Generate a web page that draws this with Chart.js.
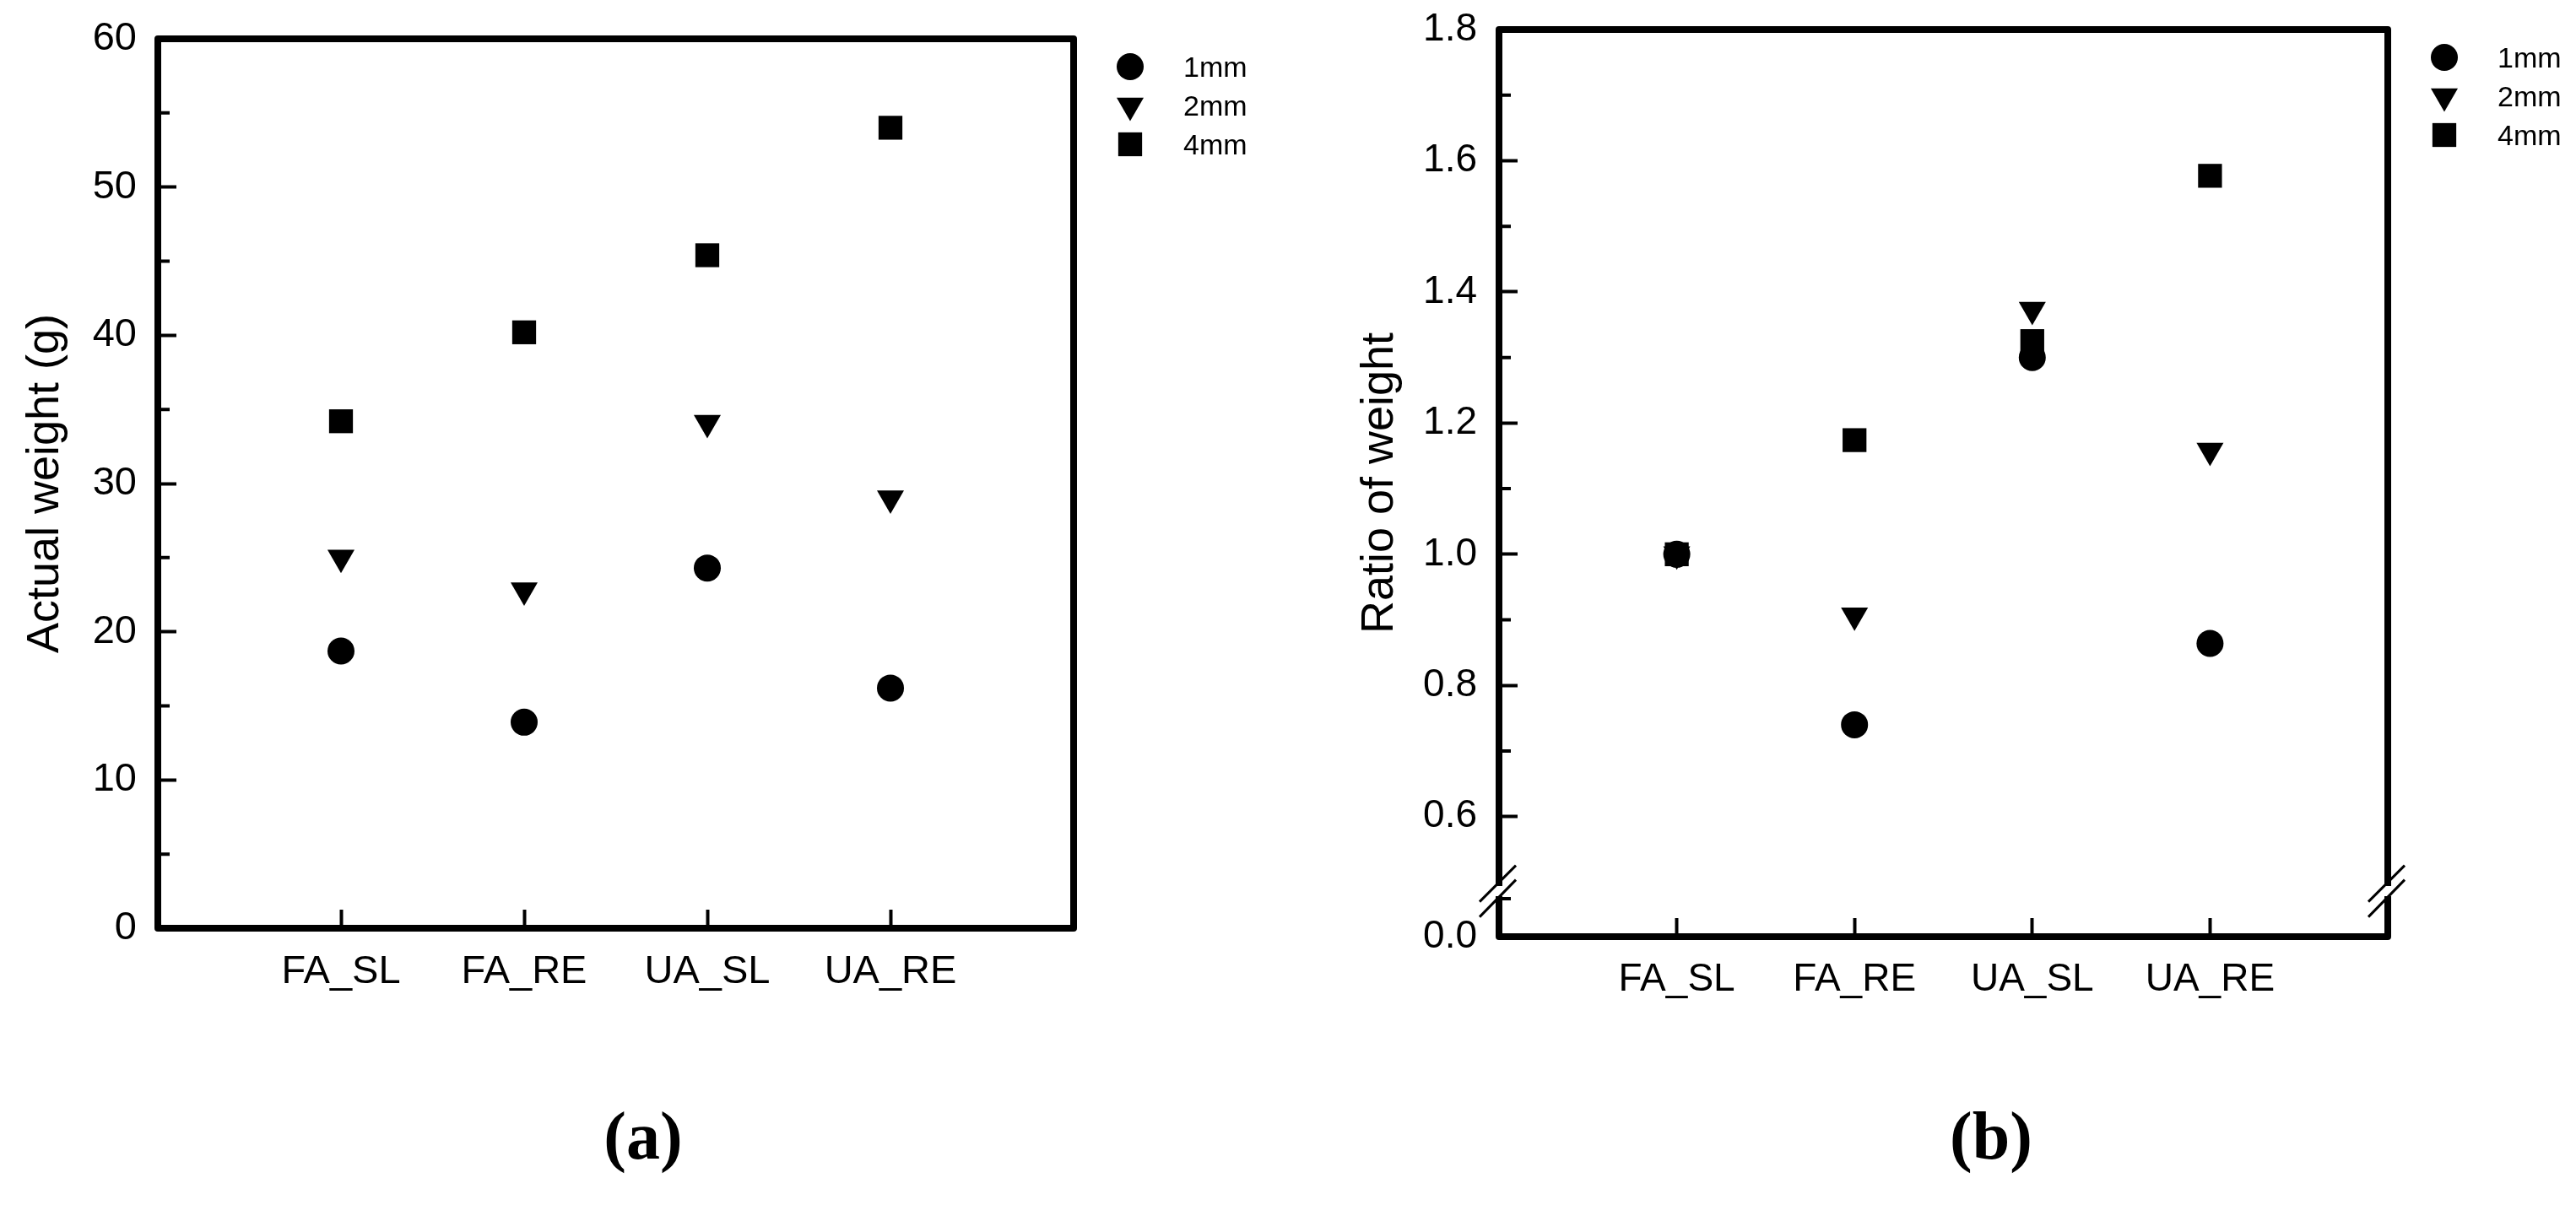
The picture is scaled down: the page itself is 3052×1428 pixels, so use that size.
<!DOCTYPE html>
<html>
<head>
<meta charset="utf-8">
<title>Actual weight and ratio of weight</title>
<script src="https://cdn.jsdelivr.net/npm/chart.js@4.4.1/dist/chart.umd.min.js"></script>
<style>
  html, body { margin: 0; padding: 0; background: #fff; }
  body { width: 3052px; height: 1428px; position: relative; overflow: hidden; }
  canvas { position: absolute; top: 0; }
  #weightChart { left: 0; }
  #ratioChart { left: 1524px; }
  .caption { position: absolute; top: 1306px; width: 200px; text-align: center; font: bold 80px/80px "Liberation Serif", serif; color: #000; }
</style>
</head>
<body>
<canvas id="weightChart" width="1524" height="1250"></canvas>
<canvas id="ratioChart" width="1528" height="1250"></canvas>
<div class="caption" style="left: 662px">(a)</div>
<div class="caption" style="left: 2259px">(b)</div>
<script>
// x axis categories and series
const categories = ['FA_SL', 'FA_RE', 'UA_SL', 'UA_RE'];
const seriesNames = ['1mm', '2mm', '4mm'];

// (a) actual weight (g)
const weight1mm = [18.7, 13.9, 24.3, 16.2];
const weight2mm = [25.0, 22.8, 34.1, 29.0];
const weight4mm = [34.2, 40.2, 45.4, 54.0];

// (b) ratio of weight
const ratio1mm = [1.0, 0.74, 1.30, 0.864];
const ratio2mm = [1.0, 0.907, 1.373, 1.158];
const ratio4mm = [1.0, 1.174, 1.325, 1.577];

// tick values
const weightTicks = [0, 10, 20, 30, 40, 50, 60];
const weightMinorTicks = [5, 15, 25, 35, 45, 55];
const ratioTicks = [0.6, 0.8, 1.0, 1.2, 1.4, 1.6, 1.8];
const ratioMinorTicks = [0.475, 0.7, 0.9, 1.1, 1.3, 1.5, 1.7];
const ratioBottomLabel = '0.0';

Chart.defaults.font.family = '"Liberation Sans", Arial, sans-serif';
Chart.defaults.color = '#000';

const markers = [
  { pointStyle: 'circle', radius: 16, rotation: 0 },
  { pointStyle: 'triangle', radius: 18.5, rotation: 180 },
  { pointStyle: 'rect', radius: 20, rotation: 0 }
];

function buildDatasets(seriesValues) {
  return seriesValues.map((values, s) => ({
    label: seriesNames[s],
    data: values.map((v, i) => ({ x: i + 1, y: v })),
    pointStyle: markers[s].pointStyle,
    pointRadius: markers[s].radius,
    pointRotation: markers[s].rotation,
    pointBackgroundColor: '#000',
    pointBorderWidth: 0,
    showLine: false
  }));
}

// frame, minor ticks, axis break and the legend
const framePlugin = {
  id: 'frame',
  afterDraw(chart, args, opts) {
    const { ctx, chartArea: a } = chart;
    const yScale = chart.scales.y;
    ctx.save();
    ctx.strokeStyle = '#000';
    ctx.fillStyle = '#000';
    ctx.lineWidth = 8;
    ctx.lineJoin = 'round';
    ctx.strokeRect(a.left, a.top, a.right - a.left, a.bottom - a.top);

    ctx.lineWidth = 4;
    ctx.beginPath();
    opts.minorTicks.forEach(v => {
      const py = yScale.getPixelForValue(v);
      ctx.moveTo(a.left, py);
      ctx.lineTo(a.left + 14, py);
    });
    ctx.stroke();

    if (opts.breakAt !== undefined) {
      const py = yScale.getPixelForValue(opts.breakAt);
      ctx.lineWidth = 3;
      [a.left, a.right].forEach(px => {
        ctx.clearRect(px - 6, py - 6, 12, 12);
        ctx.beginPath();
        ctx.moveTo(px - 23, py + 13);
        ctx.lineTo(px + 20, py - 30);
        ctx.moveTo(px - 23, py + 31);
        ctx.lineTo(px + 20, py - 13);
        ctx.stroke();
      });
    }

    ctx.font = '34px "Liberation Sans", Arial, sans-serif';
    ctx.textBaseline = 'alphabetic';
    ctx.textAlign = 'left';
    chart.data.datasets.forEach((ds, i) => {
      const baseY = a.top + 45 + 46 * i;
      Chart.helpers.drawPoint(ctx, {
        pointStyle: ds.pointStyle,
        rotation: ds.pointRotation,
        radius: ds.pointRadius,
        borderWidth: 0
      }, a.right + 67, baseY - 12);
      ctx.fillText(ds.label, a.right + 130, baseY);
    });
    ctx.restore();
  }
};

function makeChart(id, opts) {
  const tickGrid = { drawOnChartArea: false, tickLength: -22, tickWidth: 4, tickColor: '#000' };
  return new Chart(document.getElementById(id), {
    type: 'scatter',
    data: { datasets: buildDatasets(opts.series) },
    options: {
      responsive: false,
      devicePixelRatio: 1,
      animation: false,
      events: [],
      layout: { padding: opts.padding },
      plugins: {
        legend: { display: false },
        tooltip: { enabled: false },
        frame: { minorTicks: opts.minorTicks, breakAt: opts.breakAt }
      },
      scales: {
        x: {
          type: 'linear',
          min: 0,
          max: 5,
          afterBuildTicks: s => { s.ticks = categories.map((c, i) => ({ value: i + 1 })); },
          afterFit: s => {
            s.height = opts.xHeight;
            s.paddingLeft = 0;
            s.paddingRight = 0;
          },
          ticks: {
            callback: (v, i) => categories[i],
            font: { size: opts.xFont },
            padding: 46,
            maxRotation: 0,
            autoSkip: false
          },
          grid: tickGrid,
          border: { display: false }
        },
        y: {
          type: 'linear',
          min: opts.yMin,
          max: opts.yMax,
          afterBuildTicks: opts.buildTicks,
          afterFit: s => {
            s.width = opts.yWidth;
            s.paddingTop = 0;
            s.paddingBottom = 0;
          },
          ticks: {
            callback: opts.tickLabel,
            font: { size: opts.yFont },
            padding: opts.yPad
          },
          title: {
            display: true,
            text: opts.title,
            font: { size: 54 },
            padding: { top: opts.titlePad, bottom: 0 }
          },
          grid: tickGrid,
          border: { display: false }
        }
      }
    },
    plugins: [framePlugin]
  });
}

makeChart('weightChart', {
  series: [weight1mm, weight2mm, weight4mm],
  padding: { top: 46, right: 252, left: 0, bottom: 0 },
  xHeight: 150,
  yWidth: 187,
  xFont: 47,
  yFont: 47,
  yPad: 47,
  yMin: 0,
  yMax: 60,
  buildTicks: s => { s.ticks = weightTicks.map(v => ({ value: v })); },
  tickLabel: v => String(v),
  title: 'Actual weight (g)',
  titlePad: 22,
  minorTicks: weightMinorTicks
});

makeChart('ratioChart', {
  series: [ratio1mm, ratio2mm, ratio4mm],
  padding: { top: 35, right: 223, left: 0, bottom: 0 },
  xHeight: 140,
  yWidth: 252,
  xFont: 46,
  yFont: 46,
  yPad: 48,
  yMin: 0.417,
  yMax: 1.8,
  buildTicks: s => { s.ticks = [{ value: s.min }].concat(ratioTicks.map(v => ({ value: v }))); },
  tickLabel: (v, i) => i === 0 ? ratioBottomLabel : v.toFixed(1),
  title: 'Ratio of weight',
  titlePad: 79,
  minorTicks: ratioMinorTicks,
  breakAt: 0.487
});
</script>
</body>
</html>
